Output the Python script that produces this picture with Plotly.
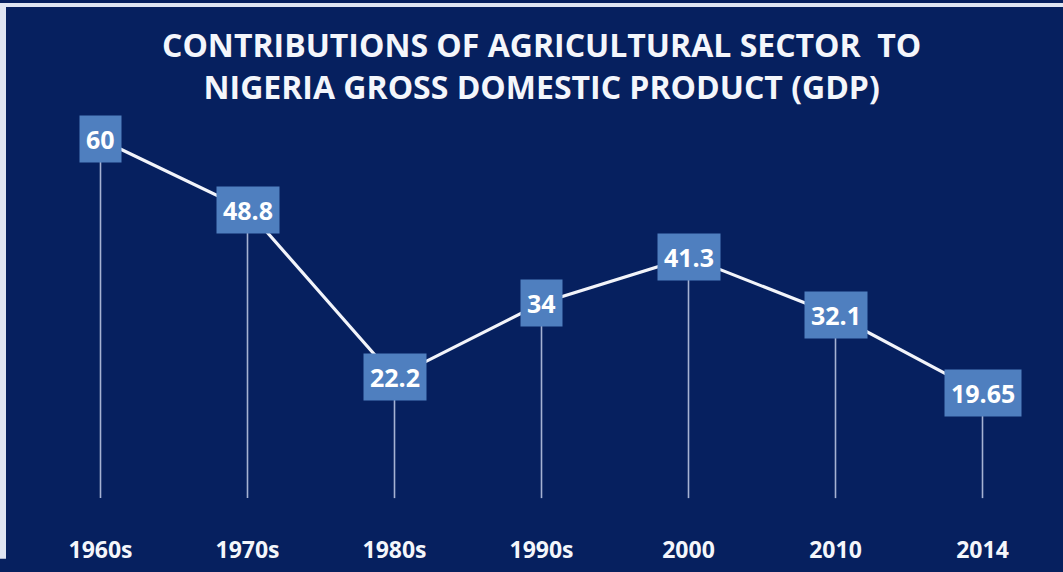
import plotly.graph_objects as go

categories = ["1960s", "1970s", "1980s", "1990s", "2000", "2010", "2014"]
values = [60, 48.8, 22.2, 34, 41.3, 32.1, 19.65]
labels = ["60", "48.8", "22.2", "34", "41.3", "32.1", "19.65"]
title_lines = ["CONTRIBUTIONS OF AGRICULTURAL SECTOR  TO",
               "NIGERIA GROSS DOMESTIC PRODUCT (GDP)"]

BG = "#06205f"
BOX = "#4f7fbf"
DROP_BASE = 3.0

W, H = 1063, 572
L, R, T, B = 27, 7, 108, 43
pw, ph = W - L - R, H - T - B

idx = list(range(len(categories)))

fig = go.Figure()
fig.add_trace(go.Scatter(
    x=idx, y=values, mode="lines",
    line=dict(color="#f2f4fa", width=3.2),
    error_y=dict(type="data", symmetric=False,
                 array=[0] * len(values),
                 arrayminus=[v - DROP_BASE for v in values],
                 color="rgba(205,215,240,0.8)", thickness=1.6, width=0),
    hoverinfo="skip", showlegend=False,
))

for i, v, t in zip(idx, values, labels):
    fig.add_annotation(x=i, y=v, text="<b>" + t + "</b>", showarrow=False,
                       font=dict(family="Open Sans", size=25, color="white"),
                       bgcolor=BOX, borderpad=6, xanchor="center", yanchor="middle")

fig.add_annotation(xref="paper", yref="paper", x=(541 - L) / pw, y=(H - 64.5 - B) / ph,
                   text="<br>".join("<b>" + s + "</b>" for s in title_lines),
                   showarrow=False, align="center",
                   font=dict(family="Open Sans", size=32, color="#f4f6fb"),
                   xanchor="center", yanchor="middle")

# light border strips on left and top
fig.add_shape(type="rect", xref="paper", yref="paper",
              x0=(0 - L) / pw, x1=(6 - L) / pw, y0=(0 - B) / ph, y1=(H - B) / ph,
              fillcolor="#dfe5f2", line=dict(width=0), layer="above")
fig.add_shape(type="rect", xref="paper", yref="paper",
              x0=(0 - L) / pw, x1=(W - L) / pw, y0=(H - 4 - B) / ph, y1=(H - B) / ph,
              fillcolor="#dfe5f2", line=dict(width=0), layer="above")

fig.update_layout(
    width=W, height=H,
    margin=dict(l=L, r=R, t=T, b=B),
    paper_bgcolor=BG, plot_bgcolor=BG,
    xaxis=dict(range=[-0.5, 6.5], showgrid=False, zeroline=False, showline=False,
               ticks="outside", ticklen=12, tickcolor=BG,
               tickfont=dict(family="Open Sans", size=23, color="#f4f6fb"),
               tickvals=idx, ticktext=["<b>" + c + "</b>" for c in categories]),
    yaxis=dict(range=[0, 65], visible=False, showgrid=False, zeroline=False),
)

fig.write_html("out.html")
